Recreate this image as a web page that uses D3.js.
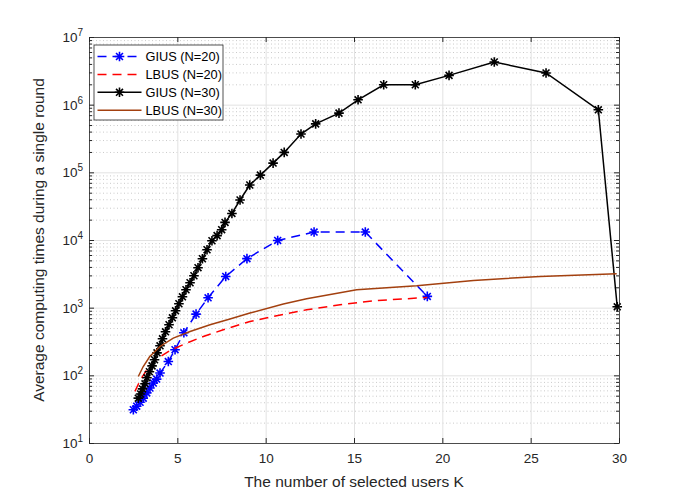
<!DOCTYPE html>
<html>
<head>
<meta charset="utf-8">
<script src="https://cdn.jsdelivr.net/npm/d3@7"></script>
<style>
  body { margin: 0; background: #fff; }
  text { font-family: "Liberation Sans", Arial, sans-serif; fill: #262626; }
</style>
</head>
<body>
<div id="chart"></div>
<script>
// data
var giusK20 = [2.51, 2.70, 2.89, 3.07, 3.27, 3.45, 3.64, 3.83, 4.02, 4.49, 4.87, 5.37, 6.06, 6.74, 7.74, 8.94, 10.68, 12.74, 15.64, 19.15];
var giusT20 = [31, 35, 40, 46, 55, 65, 77, 88, 108, 160, 239, 425, 804, 1400, 2890, 5300, 9840, 13100, 13100, 1466];

var lbusK20 = [2.60, 2.89, 3.27, 3.83, 4.58, 5.53, 6.47, 7.60, 9.11, 10.43, 12.32, 14.21, 16.09, 17.98, 19.15];
var lbusT20 = [58, 84, 121, 174, 233, 300, 375, 471, 625, 741, 931, 1104, 1265, 1355, 1416];

var giusK30 = [2.79, 2.92, 3.03, 3.17, 3.28, 3.42, 3.57, 3.71, 3.85, 4.02, 4.16, 4.33, 4.53, 4.72, 4.90, 5.09, 5.29, 5.49, 5.72, 5.94, 6.17, 6.42, 6.68, 6.96, 7.25, 7.51, 7.70,
  8.09, 8.55, 9.10, 9.70, 10.42, 11.05, 12.0, 12.83, 14.15, 15.23, 16.68, 18.47, 20.38, 22.94, 25.87, 28.83, 29.9];
var giusT30 = [46, 53, 63, 75, 92, 113, 138, 170, 215, 273, 347, 440, 559, 709, 899, 1143, 1449, 1840, 2335, 2964, 3892, 5285, 7180, 9750, 11600, 14200, 18200,
  24700, 39000, 65000, 91000, 137000, 197000, 368000, 520000, 750000, 1180000, 1970000, 1970000, 2710000, 4270000, 2940000, 840000, 1030];

var lbusK30 = [2.79, 3.07, 3.44, 4.02, 4.77, 5.72, 6.85, 7.98, 9.11, 11.0, 12.32, 15.15, 18.55, 21.76, 25.53, 29.87];
var lbusT30 = [96, 135, 190, 267, 355, 445, 558, 678, 832, 1130, 1355, 1842, 2110, 2525, 2893, 3170];

var xTicks = [0, 5, 10, 15, 20, 25, 30];
var yTicks = [1e1, 1e2, 1e3, 1e4, 1e5, 1e6, 1e7];

var series = [
  { name: "GIUS (N=20)", k: giusK20, t: giusT20, color: "#0000ff", dash: "9,6", marker: true },
  { name: "LBUS (N=20)", k: lbusK20, t: lbusT20, color: "#ff0000", dash: "9,6", marker: false },
  { name: "GIUS (N=30)", k: giusK30, t: giusT30, color: "#000000", dash: null, marker: true },
  { name: "LBUS (N=30)", k: lbusK30, t: lbusT30, color: "#a3400f", dash: null, marker: false }
];

var svgWidth = 684;
var svgHeight = 498;
var margin = { top: 37, right: 65, bottom: 55, left: 89 };
var width = svgWidth - margin.left - margin.right;
var height = svgHeight - margin.top - margin.bottom;

var svg = d3.select("#chart").append("svg")
  .attr("width", svgWidth)
  .attr("height", svgHeight);

var chartGroup = svg.append("g")
  .attr("transform", `translate(${margin.left}, ${margin.top})`);

var x = d3.scaleLinear().domain([0, 30]).range([0, width]);
var y = d3.scaleLog().domain([1e1, 1e7]).range([height, 0]);

// minor values for log axis
var minor = [];
for (var e = 1; e < 7; e++) {
  for (var m = 2; m <= 9; m++) minor.push(m * Math.pow(10, e));
}

var gridGroup = chartGroup.append("g");

// minor grid (dotted)
gridGroup.append("g")
  .call(d3.axisLeft(y).tickValues(minor).tickSize(-width).tickFormat(""))
  .call(g => g.select(".domain").remove())
  .selectAll("line")
  .attr("stroke", "#cacaca")
  .attr("stroke-dasharray", "1,2.5");

// major grid
gridGroup.append("g")
  .call(d3.axisLeft(y).tickValues(yTicks).tickSize(-width).tickFormat(""))
  .call(g => g.select(".domain").remove())
  .selectAll("line").attr("stroke", "#e2e2e2");

gridGroup.append("g")
  .attr("transform", `translate(0, ${height})`)
  .call(d3.axisBottom(x).tickValues(xTicks).tickSize(-height).tickFormat(""))
  .call(g => g.select(".domain").remove())
  .selectAll("line").attr("stroke", "#e2e2e2");

// lines
var line = d3.line()
  .x(d => x(d[0]))
  .y(d => y(d[1]));

function star(g, cx, cy, r, color) {
  var d = r * 0.72;
  g.append("path")
    .attr("d", `M${cx - r},${cy}L${cx + r},${cy}M${cx},${cy - r}L${cx},${cy + r}` +
      `M${cx - d},${cy - d}L${cx + d},${cy + d}M${cx - d},${cy + d}L${cx + d},${cy - d}`)
    .attr("stroke", color)
    .attr("stroke-width", 1.6)
    .attr("fill", "none");
}

var plot = chartGroup.append("g");

series.forEach(function(s) {
  var pts = s.k.map((k, i) => [k, s.t[i]]);
  plot.append("path")
    .datum(pts)
    .attr("d", line)
    .attr("fill", "none")
    .attr("stroke", s.color)
    .attr("stroke-width", 1.5)
    .attr("stroke-dasharray", s.dash);
  if (s.marker) {
    var mg = plot.append("g");
    pts.forEach(p => star(mg, x(p[0]), y(p[1]), 4.8, s.color));
  }
});

// axes box and ticks
var axisColor = "#262626";
var axesGroup = chartGroup.append("g");

var bottomAxis = d3.axisBottom(x).tickValues(xTicks).tickSizeInner(-5).tickSizeOuter(0).tickPadding(10);
var topAxis = d3.axisTop(x).tickValues(xTicks).tickSizeInner(-5).tickSizeOuter(0).tickFormat("");
var leftAxis = d3.axisLeft(y).tickValues(yTicks).tickSizeInner(-5).tickSizeOuter(0).tickFormat("");
var rightAxis = d3.axisRight(y).tickValues(yTicks).tickSizeInner(-5).tickSizeOuter(0).tickFormat("");

var gb = axesGroup.append("g").attr("transform", `translate(0, ${height})`).call(bottomAxis);
axesGroup.append("g").call(topAxis);
axesGroup.append("g").call(leftAxis);
axesGroup.append("g").attr("transform", `translate(${width}, 0)`).call(rightAxis);

axesGroup.append("g")
  .call(d3.axisLeft(y).tickValues(minor).tickSizeInner(-3).tickSizeOuter(0).tickFormat(""))
  .select(".domain").remove();
axesGroup.append("g")
  .attr("transform", `translate(${width}, 0)`)
  .call(d3.axisRight(y).tickValues(minor).tickSizeInner(-3).tickSizeOuter(0).tickFormat(""))
  .select(".domain").remove();

axesGroup.selectAll(".domain, .tick line").attr("stroke", axisColor);
axesGroup.selectAll(".domain").attr("stroke-width", 0.8);

gb.selectAll("text")
  .attr("font-size", 13.5)
  .style("fill", axisColor)
  .style("font-family", "Liberation Sans, Arial, sans-serif");

// log tick labels 10^n
yTicks.forEach(function(v) {
  var t = chartGroup.append("text")
    .attr("x", -6)
    .attr("y", y(v) + 5)
    .attr("text-anchor", "end")
    .attr("font-size", 13.5);
  t.append("tspan").text("10");
  t.append("tspan").attr("dy", -6).attr("font-size", 10).text(Math.round(Math.log10(v)));
});

// axis labels
chartGroup.append("text")
  .attr("x", width / 2)
  .attr("y", height + 44)
  .attr("text-anchor", "middle")
  .attr("font-size", 15.5)
  .text("The number of selected users K");

chartGroup.append("text")
  .attr("transform", "rotate(-90)")
  .attr("x", -height / 2)
  .attr("y", -45)
  .attr("text-anchor", "middle")
  .attr("font-size", 15.5)
  .text("Average computing times during a single round");

// legend
var legend = svg.append("g").attr("transform", "translate(94, 45)");
legend.append("rect")
  .attr("width", 129)
  .attr("height", 75)
  .attr("fill", "#fff")
  .attr("stroke", axisColor)
  .attr("stroke-width", 0.8);

series.forEach(function(s, i) {
  var ly = 11.5 + i * 17.9;
  legend.append("line")
    .attr("x1", 3.5).attr("x2", 47.5)
    .attr("y1", ly).attr("y2", ly)
    .attr("stroke", s.color)
    .attr("stroke-width", 1.5)
    .attr("stroke-dasharray", s.dash);
  if (s.marker) star(legend, 25.5, ly, 4.8, s.color);
  legend.append("text")
    .attr("x", 51.5)
    .attr("y", ly + 4.5)
    .attr("font-size", 12.8)
    .style("fill", "#000")
    .text(s.name);
});
</script>
</body>
</html>
